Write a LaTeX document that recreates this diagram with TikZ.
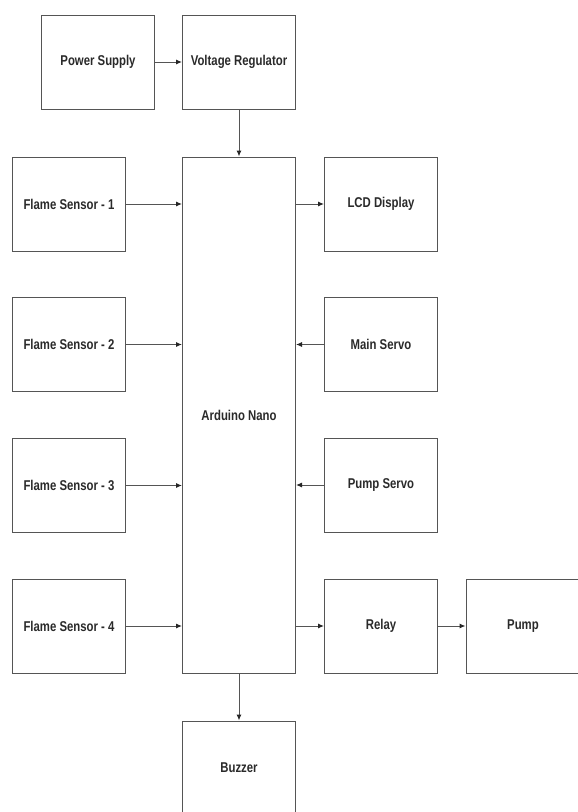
\documentclass[tikz,border=0pt]{standalone}
\usepackage{fontspec}
\setmainfont{Liberation Sans}[FakeStretch=0.82,BoldFont={Liberation Sans Bold},BoldFeatures={FakeStretch=0.80}]
\usetikzlibrary{arrows.meta}
\definecolor{edge}{HTML}{555555}
\definecolor{txt}{HTML}{2A2A2A}
\begin{document}
\begin{tikzpicture}[x=1pt,y=-1pt,
  blk/.style={draw=edge,line width=1pt,minimum width=113pt,minimum height=94pt,inner sep=0pt,
    font=\fontsize{14.2}{16}\selectfont\bfseries,text=txt},
  conn/.style={draw=edge,line width=1pt,-{Latex[length=6pt,width=5pt,fill=black!85,color=black!85]}}]
\clip (0,0) rectangle (578,812);
\useasboundingbox (0,0) rectangle (578,812);
\fill[white] (0,0) rectangle (578,812);
\node[blk] (ps) at (98,62) {Power Supply};
\node[blk] (vr) at (239,62) {Voltage Regulator};
\node[blk] (fs1) at (69,204) {Flame Sensor - 1};
\node[blk] (fs2) at (69,344.5) {Flame Sensor - 2};
\node[blk] (fs3) at (69,485.5) {Flame Sensor - 3};
\node[blk] (fs4) at (69,626) {Flame Sensor - 4};
\node[blk,minimum height=516pt] (ard) at (239,415) {Arduino Nano};
\node[blk] (lcd) at (381,204) {LCD Display};
\node[blk] (ms) at (381,344.5) {Main Servo};
\node[blk] (psv) at (381,485) {Pump Servo};
\node[blk] (rel) at (381,626) {Relay};
\node[blk,minimum width=114pt] (pump) at (523,626) {Pump};
\node[blk] (buz) at (239,768) {Buzzer};
\draw[conn] (ps) -- (vr);
\draw[conn] (vr) -- (ard);
\draw[conn] (fs1.east) -- (fs1.east -| ard.west);
\draw[conn] (fs2.east) -- (fs2.east -| ard.west);
\draw[conn] (fs3.east) -- (fs3.east -| ard.west);
\draw[conn] (fs4.east) -- (fs4.east -| ard.west);
\draw[conn] (lcd.west -| ard.east) -- (lcd.west);
\draw[conn] (ms.west) -- (ms.west -| ard.east);
\draw[conn] (psv.west) -- (psv.west -| ard.east);
\draw[conn] (rel.west -| ard.east) -- (rel.west);
\draw[conn] (rel) -- (pump);
\draw[conn] (ard) -- (buz);
\end{tikzpicture}
\end{document}
